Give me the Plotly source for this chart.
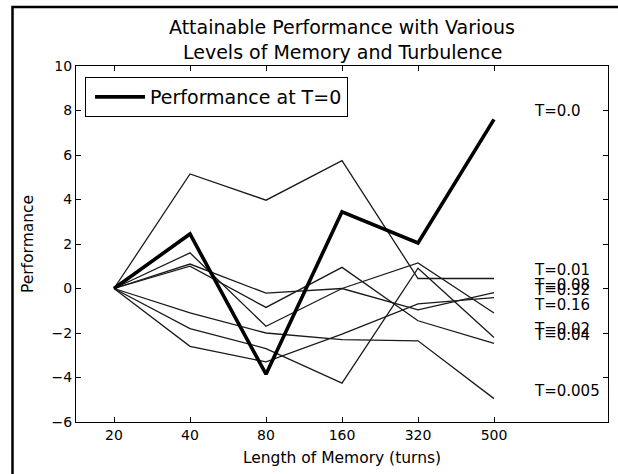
import plotly.graph_objects as go

# ---- data ----
memory_labels = ["20", "40", "80", "160", "320", "500"]
x_pos = [0, 1, 2, 3, 4, 5]

perf_T0 = [0, 2.45, -3.85, 3.45, 2.05, 7.6]      # thick, T=0.0
perf_T001 = [0, 5.15, 3.97, 5.75, 0.45, 0.45]   # T=0.01
perf_T008 = [0, 1.1, -0.21, 0.0, -0.96, -0.18]  # T=0.08
perf_T032 = [0, -2.6, -3.3, -2.05, -0.69, -0.41]  # T=0.32
perf_T016 = [0, 1.6, -1.7, 0.0, 1.15, -1.1]     # T=0.16
perf_T002 = [0, -1.8, -2.7, -4.25, 0.91, -2.2]  # T=0.02
perf_T004 = [0, 1.0, -0.85, 0.95, -1.45, -2.47] # T=0.04
perf_T0005 = [0, -1.1, -2.0, -2.3, -2.35, -4.95]  # T=0.005

thin_series = [
    ("T=0.01", perf_T001),
    ("T=0.08", perf_T008),
    ("T=0.32", perf_T032),
    ("T=0.16", perf_T016),
    ("T=0.02", perf_T002),
    ("T=0.04", perf_T004),
    ("T=0.005", perf_T0005),
]
y_ticks = [-6, -4, -2, 0, 2, 4, 6, 8, 10]
title_lines = ["Attainable Performance with Various", "Levels of Memory and Turbulence"]

FONT = "DejaVu Sans"

fig = go.Figure()
for name, vals in thin_series:
    fig.add_trace(go.Scatter(x=x_pos, y=vals, mode="lines", name=name,
                             line=dict(color="#1a1a1a", width=1.3),
                             showlegend=False))
fig.add_trace(go.Scatter(x=x_pos, y=perf_T0, mode="lines",
                         name="Performance at T=0",
                         line=dict(color="black", width=3.6),
                         showlegend=True))

# end labels
label_x = 5.5
for name, vals in [("T=0.0", perf_T0)] + thin_series:
    fig.add_annotation(x=label_x, y=vals[-1], text=name, showarrow=False,
                       xanchor="left", yanchor="bottom", yshift=-3,
                       font=dict(family=FONT, size=15, color="black"))

px_l, px_r, px_t, px_b = 76, 608, 66, 422
W = px_r - px_l
H = px_b - px_t

# two-line title
for line_text, py in zip(title_lines, [27, 52]):
    fig.add_annotation(x=0.5, xref="paper", y=(px_b - py) / H, yref="paper",
                       text=line_text, showarrow=False,
                       xanchor="center", yanchor="middle",
                       font=dict(family=FONT, size=19, color="black"))

# outer frame of figure
fig.add_shape(type="rect", xref="paper", yref="paper",
              x0=(12.5 - px_l) / W, x1=(640 - px_l) / W,
              y0=(px_b - 490) / H, y1=(px_b - 7) / H,
              line=dict(color="black", width=2.5), fillcolor="rgba(0,0,0,0)",
              layer="below")

fig.update_layout(
    width=618, height=474,
    margin=dict(l=px_l, r=618 - px_r, t=px_t, b=474 - px_b, autoexpand=False),
    paper_bgcolor="white", plot_bgcolor="white",
    font=dict(family=FONT, size=14, color="black"),
    legend=dict(x=0.017, y=0.969, xanchor="left", yanchor="top",
                bgcolor="white", bordercolor="black", borderwidth=1,
                itemwidth=50, indentation=4,
                font=dict(family=FONT, size=19, color="black")),
    xaxis=dict(range=[-0.5, 6.5], tickvals=x_pos, ticktext=memory_labels,
               showline=True, linecolor="black", linewidth=1, mirror="allticks",
               ticks="inside", ticklen=5, tickcolor="black",
               showgrid=False, zeroline=False,
               tickfont=dict(family=FONT, size=14),
               title=dict(text="Length of Memory (turns)", standoff=10,
                          font=dict(family=FONT, size=15.5))),
    yaxis=dict(range=[-6, 10], tickvals=y_ticks,
               showline=True, linecolor="black", linewidth=1, mirror="allticks",
               ticks="inside", ticklen=5, tickcolor="black",
               showgrid=False, zeroline=False,
               tickfont=dict(family=FONT, size=14),
               title=dict(text="Performance", standoff=14,
                          font=dict(family=FONT, size=15.5))),
)

fig.write_html("out.html",
               config={"displayModeBar": False},
               post_script="document.body.style.margin='0';document.body.style.overflow='hidden';")
